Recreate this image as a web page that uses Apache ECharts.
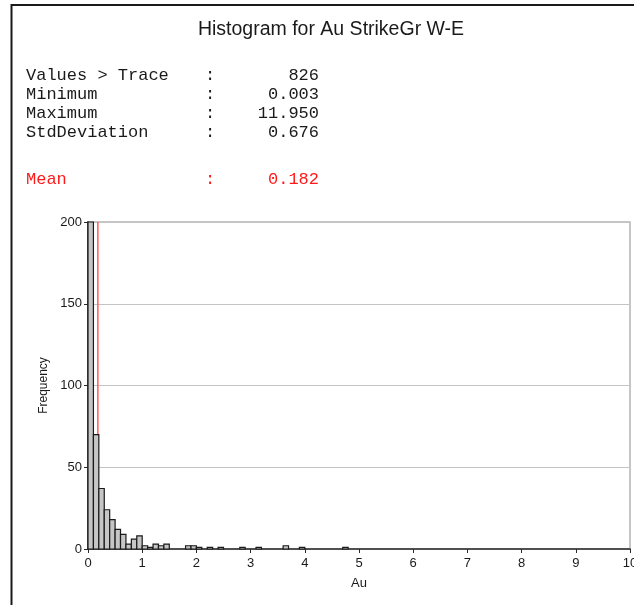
<!DOCTYPE html>
<html>
<head>
<meta charset="utf-8">
<script src="https://cdn.jsdelivr.net/npm/echarts@6/dist/echarts.min.js"></script>
<style>
  html, body { margin: 0; padding: 0; background: #ffffff; }
  #chart { width: 634px; height: 605px; }
</style>
</head>
<body>
<div id="chart"></div>
<script>
// Histogram of Au grades, bin width 0.1 (lower bin edges and counts)
const binWidth = 0.1;
const binStart = [0.0, 0.1, 0.2, 0.3, 0.4, 0.5, 0.6, 0.7, 0.8, 0.9,
                  1.0, 1.1, 1.2, 1.3, 1.4, 1.8, 1.9, 2.0, 2.2, 2.4,
                  2.8, 3.1, 3.6, 3.9, 4.7, 11.9];
const counts   = [614, 70, 37, 24, 18, 12, 9, 3, 6, 8,
                  2, 1, 3, 2, 3, 2, 2, 1, 1, 1,
                  1, 1, 2, 1, 1, 1];

// Summary statistics block
const statLabels = ['Values > Trace', 'Minimum', 'Maximum', 'StdDeviation'];
const statValues = ['826', '0.003', '11.950', '0.676'];
const meanLabel = 'Mean';
const meanValue = 0.182;

const xTicks = { min: 0, max: 10, interval: 1 };
const yTicks = { min: 0, max: 200, interval: 50 };

const chart = echarts.init(document.getElementById('chart'), null, { renderer: 'canvas' });

const binData = binStart.map((s, i) => [s, +(s + binWidth).toFixed(2), counts[i]]);

function renderBin(params, api) {
  const x0 = api.value(0), x1 = api.value(1), n = api.value(2);
  const p0 = api.coord([x0, 0]);
  const p1 = api.coord([x1, n]);
  const rect = echarts.graphic.clipRectByRect(
    { x: p0[0], y: p1[1], width: p1[0] - p0[0], height: p0[1] - p1[1] },
    { x: params.coordSys.x, y: params.coordSys.y, width: params.coordSys.width, height: params.coordSys.height }
  );
  if (!rect) return null;
  return {
    type: 'rect',
    shape: rect,
    style: { fill: '#c6c6c6', stroke: '#1a1a1a', lineWidth: 1.2 }
  };
}

const mono = '"Liberation Mono", "Courier New", monospace';
const sans = '"Liberation Sans", Arial, sans-serif';

const statRowsY = [75, 94, 113, 132];
const graphics = [
  // outer frame
  { type: 'rect', shape: { x: 11.5, y: 5, width: 700, height: 700 },
    style: { fill: 'none', stroke: '#1a1a1a', lineWidth: 2 }, silent: true },
  { type: 'text', x: 331, y: 30,
    style: { text: 'Histogram for Au StrikeGr W-E', font: '19.5px ' + sans, fill: '#1a1a1a',
             textAlign: 'center', textVerticalAlign: 'middle' } }
];
statLabels.forEach((lab, i) => {
  graphics.push({ type: 'text', x: 26, y: statRowsY[i],
    style: { text: lab, font: '17px ' + mono, fill: '#1a1a1a', textAlign: 'left', textVerticalAlign: 'middle' } });
  graphics.push({ type: 'text', x: 210, y: statRowsY[i],
    style: { text: ':', font: '17px ' + mono, fill: '#1a1a1a', textAlign: 'center', textVerticalAlign: 'middle' } });
  graphics.push({ type: 'text', x: 319, y: statRowsY[i],
    style: { text: statValues[i], font: '17px ' + mono, fill: '#1a1a1a', textAlign: 'right', textVerticalAlign: 'middle' } });
});
graphics.push({ type: 'text', x: 26, y: 179,
  style: { text: meanLabel, font: '17px ' + mono, fill: '#ff1a1a', textAlign: 'left', textVerticalAlign: 'middle' } });
graphics.push({ type: 'text', x: 210, y: 179,
  style: { text: ':', font: '17px ' + mono, fill: '#ff1a1a', textAlign: 'center', textVerticalAlign: 'middle' } });
graphics.push({ type: 'text', x: 319, y: 179,
  style: { text: meanValue.toFixed(3), font: '17px ' + mono, fill: '#ff1a1a', textAlign: 'right', textVerticalAlign: 'middle' } });

const axisText = { color: '#1a1a1a', fontFamily: sans, fontSize: 13 };

chart.setOption({
  animation: false,
  backgroundColor: '#ffffff',
  graphic: graphics,
  grid: {
    left: 88, right: 4, top: 222, bottom: 56,
    outerBoundsMode: 'none',
    containLabel: false,
    show: true, borderColor: '#b4b4b4', borderWidth: 1.5, backgroundColor: 'transparent'
  },
  xAxis: {
    type: 'value',
    min: xTicks.min, max: xTicks.max, interval: xTicks.interval,
    name: 'Au', nameLocation: 'middle', nameGap: 28,
    nameTextStyle: { color: '#1a1a1a', fontFamily: sans, fontSize: 13 },
    axisLine: { show: true, onZero: false, lineStyle: { color: '#2a2a2a', width: 1.5 } },
    axisTick: { show: true, inside: false, length: 4, lineStyle: { color: '#2a2a2a' } },
    axisLabel: Object.assign({ margin: 8, showMaxLabel: true, hideOverlap: false }, axisText),
    splitLine: { show: false }
  },
  yAxis: {
    type: 'value',
    min: yTicks.min, max: yTicks.max, interval: yTicks.interval,
    name: 'Frequency', nameLocation: 'middle', nameGap: 38, nameRotate: 90,
    nameTextStyle: { color: '#1a1a1a', fontFamily: sans, fontSize: 12 },
    axisLine: { show: true, lineStyle: { color: '#2a2a2a', width: 1.5 } },
    axisTick: { show: true, inside: false, length: 4, lineStyle: { color: '#2a2a2a' } },
    axisLabel: Object.assign({ margin: 6 }, axisText),
    splitLine: { show: true, lineStyle: { color: '#c4c4c4', width: 1 } }
  },
  series: [
    {
      name: 'Mean',
      type: 'line',
      z: 1,
      symbol: 'none',
      silent: true,
      data: [[meanValue, yTicks.min], [meanValue, yTicks.max]],
      lineStyle: { color: '#ff5c5c', width: 1.5 }
    },
    {
      name: 'Au',
      type: 'custom',
      z: 2,
      renderItem: renderBin,
      encode: { x: [0, 1], y: 2 },
      data: binData
    }
  ]
});
</script>
</body>
</html>
